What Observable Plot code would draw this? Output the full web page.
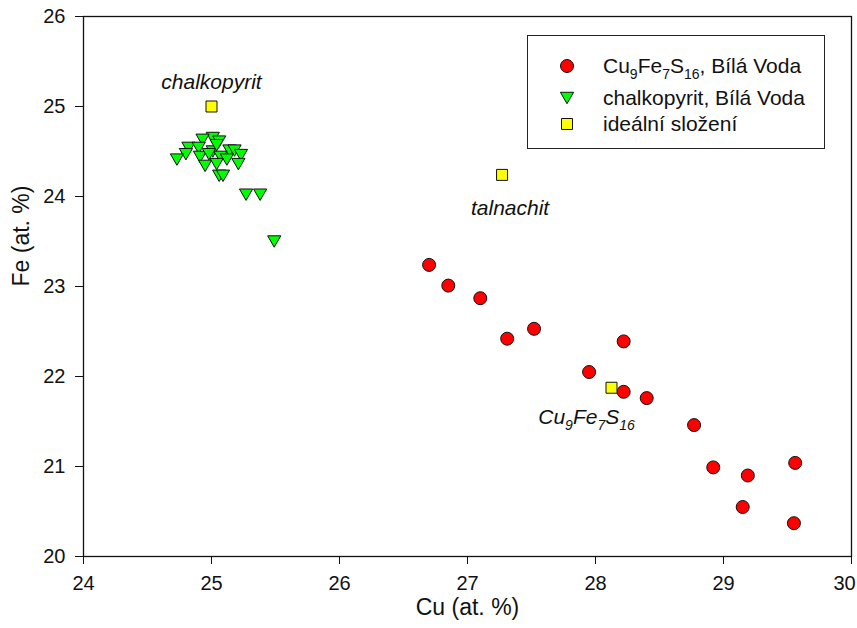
<!DOCTYPE html>
<html><head><meta charset="utf-8">
<script src="https://cdn.jsdelivr.net/npm/d3@7"></script>
<script src="https://cdn.jsdelivr.net/npm/@observablehq/plot@0.6"></script>
<style>
body{margin:0;background:#fff;}
#chart svg{font-family:"Liberation Sans",Arial,sans-serif;overflow:visible;}
</style>
</head><body><div id="chart"></div>
<script>
// Cu9Fe7S16, Bílá Voda
const bvCu = [26.70, 26.85, 27.10, 27.31, 27.52, 27.95, 28.22, 28.22, 28.40, 28.77, 28.92, 29.19, 29.56, 29.15, 29.55];
const bvFe = [23.24, 23.01, 22.87, 22.42, 22.53, 22.05, 22.39, 21.83, 21.76, 21.46, 20.99, 20.90, 21.04, 20.55, 20.37];
// chalkopyrit, Bílá Voda
const chCu = [25.01, 24.93, 25.06, 24.82, 24.90, 25.01, 25.14, 25.18, 25.23, 24.80, 24.73, 24.91, 25.07, 25.12, 24.95, 25.04, 25.21, 25.06, 25.09, 25.27, 25.38, 25.49, 24.98, 25.04];
const chFe = [24.65, 24.63, 24.61, 24.54, 24.54, 24.50, 24.51, 24.51, 24.46, 24.47, 24.41, 24.44, 24.44, 24.41, 24.34, 24.36, 24.36, 24.23, 24.23, 24.02, 24.02, 23.50, 24.47, 24.57];
// ideální složení
const idealNames = ["chalkopyrit", "talnachit", "Cu9Fe7S16"];
const idealCu = [25.0, 27.27, 28.125];
const idealFe = [25.0, 24.24, 21.875];
const labelDx = [0, 8, -25];
const labelDy = [-24, 33, 30];

const xTicks = [24, 25, 26, 27, 28, 29, 30];
const yTicks = [20, 21, 22, 23, 24, 25, 26];
const xTitle = "Cu (at. %)";
const yTitle = "Fe (at. %)";
const legendNames = ["Cu9Fe7S16, Bílá Voda", "chalkopyrit, Bílá Voda", "ideální složení"];

const bv = bvCu.map((c, i) => ({cu: c, fe: bvFe[i]}));
const ch = chCu.map((c, i) => ({cu: c, fe: chFe[i]}));
const ideal = idealNames.map((n, i) => ({name: n, cu: idealCu[i], fe: idealFe[i], dx: labelDx[i], dy: labelDy[i]}));

const triangleDown = {
  draw(context, size) {
    const s = Math.sqrt(size * 4 / Math.sqrt(3));
    const h = s * Math.sqrt(3) / 2;
    context.moveTo(-s / 2, -h / 2);
    context.lineTo(s / 2, -h / 2);
    context.lineTo(0, h / 2);
    context.closePath();
  }
};

const labelMarks = ideal.map(d => Plot.text([d], {
  x: "cu", y: "fe", text: "name", dx: d.dx, dy: d.dy,
  fontStyle: "italic", fontSize: 21, fill: "#111", textAnchor: "middle"
}));

const plot = Plot.plot({
  width: 857, height: 628,
  marginLeft: 83, marginRight: 6, marginTop: 16, marginBottom: 72,
  style: {fontSize: "20px", color: "#111", background: "#fff"},
  x: {domain: [24, 30]},
  y: {domain: [20, 26]},
  marks: [
    Plot.frame({stroke: "#111", strokeWidth: 1.3}),
    Plot.axisX({ticks: xTicks, tickSize: 8, tickPadding: 11, label: null, tickFormat: d => String(d)}),
    Plot.axisY({ticks: yTicks, tickSize: 8, tickPadding: 10, label: null, tickFormat: d => String(d)}),
    Plot.dot(bv, {x: "cu", y: "fe", r: 6.5, fill: "#ff0000", stroke: "#111", strokeWidth: 1}),
    Plot.dot(ch, {x: "cu", y: "fe", r: 4.9, symbol: triangleDown, fill: "#00ff00", stroke: "#111", strokeWidth: 1}),
    Plot.dot(ideal, {x: "cu", y: "fe", r: 6.2, symbol: "square", fill: "#ffff00", stroke: "#111", strokeWidth: 1}),
    ...labelMarks,
    Plot.text([xTitle], {text: d => d, frameAnchor: "bottom", dy: 58, fontSize: 23, fill: "#111"}),
    Plot.text([yTitle], {text: d => d, frameAnchor: "left", dx: -62, rotate: -90, fontSize: 23, fill: "#111"})
  ]
});
document.getElementById("chart").appendChild(plot);

const svg = d3.select(plot);
// keep the last x tick label inside the picture
svg.selectAll("text").filter(function () { return this.textContent === "30"; }).attr("dx", -7);

// subscripts for the chemical formula
function formula(sel, str, size) {
  const parts = str.match(/(\d+|[^\d]+)/g);
  let sub = false;
  const shift = Math.round(size * 0.28);
  sel.text(null);
  parts.forEach(p => {
    const isNum = /^\d+$/.test(p);
    const t = sel.append("tspan").text(p);
    if (isNum && !sub) { t.attr("dy", shift).attr("font-size", Math.round(size * 0.68)); sub = true; }
    else if (isNum) { t.attr("font-size", Math.round(size * 0.68)); }
    else if (sub) { t.attr("dy", -shift); sub = false; }
  });
}
svg.selectAll("text").filter(function () { return this.textContent === "Cu9Fe7S16"; })
  .each(function () { formula(d3.select(this), "Cu9Fe7S16", 21); });

// legend box
const lg = svg.append("g").attr("text-anchor", "start");
lg.append("rect").attr("x", 527.5).attr("y", 35.5).attr("width", 297).attr("height", 113)
  .attr("fill", "#fff").attr("stroke", "#222").attr("stroke-width", 1);
const rowsY = [66, 98, 124];
const symX = 567;
lg.append("path").attr("transform", `translate(${symX},${rowsY[0]})`)
  .attr("d", d3.symbol(d3.symbolCircle, Math.PI * 6.5 * 6.5)()).attr("fill", "#ff0000").attr("stroke", "#111");
lg.append("path").attr("transform", `translate(${symX},${rowsY[1]})`)
  .attr("d", d3.symbol(triangleDown, Math.PI * 4.9 * 4.9)()).attr("fill", "#00ff00").attr("stroke", "#111");
lg.append("path").attr("transform", `translate(${symX},${rowsY[2]})`)
  .attr("d", d3.symbol(d3.symbolSquare, Math.PI * 6.2 * 6.2)()).attr("fill", "#ffff00").attr("stroke", "#111");
legendNames.forEach((n, i) => {
  const t = lg.append("text").attr("x", 603).attr("y", rowsY[i]).attr("dy", "0.35em")
    .attr("text-anchor", "start").attr("font-size", 21).attr("fill", "#111");
  if (i === 0) formula(t, "Cu9Fe7S16, Bílá Voda", 21); else t.text(n);
});
</script>
</body></html>
